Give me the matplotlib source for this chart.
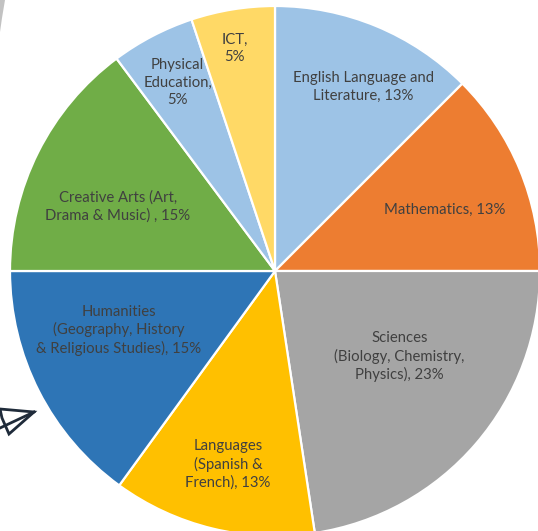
import numpy as np
import matplotlib
matplotlib.use("Agg")
import matplotlib.pyplot as plt
from matplotlib.patches import Polygon

# ---- data ----
subjects = ["English Language and\nLiterature", "Mathematics",
            "Sciences\n(Biology, Chemistry,\nPhysics)", "Languages\n(Spanish &\nFrench)",
            "Humanities\n(Geography, History\n& Religious Studies)",
            "Creative Arts (Art,\nDrama & Music) ", "Physical\nEducation", "ICT"]
shares = [12.5, 12.5, 22.6, 12.4, 15.0, 14.8, 5.1, 5.1]
shown_pct = ["13%", "13%", "23%", "13%", "15%", "15%", "5%", "5%"]
colors = ["#9DC3E6", "#ED7D31", "#A5A5A5", "#FFC000", "#2E75B6",
          "#70AD47", "#9DC3E6", "#FFD966"]

# label placement style (radius fraction, angle nudge in degrees, separator)
lab_r = [0.77, 0.68, 0.57, 0.75, 0.63, 0.64, 0.80, 0.855]
lab_da = [-3.2, -2.8, 6.1, 0.0, -6.2, 4.4, -0.2, 1.1]
sep = [", ", ", ", ", ", ", ", ", ", ", ", ",\n", ",\n"]

W, H = 538, 531
fig = plt.figure(figsize=(W / 100, H / 100), dpi=100)
ax = fig.add_axes([0, 0, 1, 1])

cx, cy, R = 275, 271, 265  # pixel layout
wedges, _ = ax.pie(shares, colors=colors, startangle=90, counterclock=False,
                   radius=1.0, wedgeprops=dict(edgecolor="white", linewidth=1.6))

ax.set_xlim(-cx / R, (W - cx) / R)
ax.set_ylim(-(H - cy) / R, cy / R)
ax.set_aspect("auto")
ax.axis("off")

for w, name, pct, r, da, s in zip(wedges, subjects, shown_pct, lab_r, lab_da, sep):
    mid = np.deg2rad((w.theta1 + w.theta2) / 2 + da)
    txt = name + s + pct
    if name.startswith("ICT"):
        txt = "ICT,\n" + pct
    ax.text(r * np.cos(mid), r * np.sin(mid), txt, ha="center", va="center",
            fontsize=10.7, color="#404040", family=["Lato", "DejaVu Sans"],
            linespacing=1.3)

# decorations: grey sliver at top-left and a paper-plane outline
def px(x, y):
    return ((x - cx) / R, (cy - y) / R)

ax.add_patch(Polygon([px(0, 0), px(5, 0), px(2, 18), px(0, 32)], closed=True,
                     facecolor="#9a9a9a", edgecolor="none", alpha=0.6))
plane = [px(0, 409), px(34, 412), px(9, 434), px(2, 418)]
ax.add_patch(Polygon(plane, closed=True, facecolor="none", edgecolor="#1f2b3a",
                     linewidth=2.0))
ax.plot(*zip(px(0, 428), px(34, 412)), color="#1f2b3a", linewidth=2.0)

fig.savefig("out.png", dpi=100)
